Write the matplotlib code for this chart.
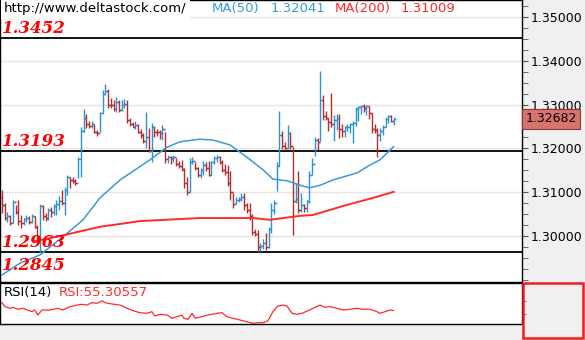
import matplotlib
matplotlib.use("Agg")
import matplotlib.pyplot as plt
from matplotlib.patches import Rectangle
from matplotlib.ticker import FixedLocator, MultipleLocator, FormatStrFormatter
import numpy as np

# Daily bars (high / low / close); each bar opens at the previous close
first_open = 1.3090
highs = [1.3105, 1.3075, 1.3055, 1.3048, 1.3082, 1.3071, 1.3082, 1.3048, 1.3041, 1.3048,
         1.3045, 1.3050, 1.3046, 1.3025, 1.3073, 1.3071, 1.3052, 1.3064, 1.3066, 1.3073,
         1.3082, 1.3092, 1.3105, 1.3112, 1.3140, 1.3135, 1.3134, 1.3130, 1.3180, 1.3249,
         1.3290, 1.3278, 1.3262, 1.3262, 1.3256, 1.3242, 1.3283, 1.3333, 1.3347, 1.3336,
         1.3314, 1.3310, 1.3317, 1.3310, 1.3310, 1.3312, 1.3310, 1.3270, 1.3260, 1.3262,
         1.3255, 1.3244, 1.3235, 1.3283, 1.3247, 1.3258, 1.3252, 1.3244, 1.3242, 1.3253,
         1.3237, 1.3185, 1.3183, 1.3185, 1.3178, 1.3172, 1.3174, 1.3155, 1.3135, 1.3178,
         1.3180, 1.3170, 1.3158, 1.3155, 1.3172, 1.3168, 1.3172, 1.3172, 1.3182, 1.3185,
         1.3182, 1.3174, 1.3165, 1.3163, 1.3148, 1.3098, 1.3090, 1.3090, 1.3098, 1.3098,
         1.3075, 1.3075, 1.3050, 1.3015, 1.3014, 1.2985, 1.2993, 1.3007, 1.3021, 1.3075,
         1.3082, 1.3170, 1.3286, 1.3240, 1.3215, 1.3253, 1.3238, 1.3203, 1.3120, 1.3148,
         1.3098, 1.3073, 1.3082, 1.3148, 1.3178, 1.3226, 1.3224, 1.3377, 1.3322, 1.3285,
         1.3270, 1.3326, 1.3276, 1.3279, 1.3279, 1.3256, 1.3251, 1.3255, 1.3258, 1.3262,
         1.3295, 1.3297, 1.3299, 1.3301, 1.3299, 1.3297, 1.3281, 1.3256, 1.3247, 1.3247,
         1.3254, 1.3272, 1.3276, 1.3276, 1.3272]
lows = [1.3053, 1.3037, 1.3033, 1.3025, 1.3030, 1.3050, 1.3026, 1.3019, 1.3026, 1.3033,
        1.3028, 1.3030, 1.3018, 1.2991, 1.2961, 1.3037, 1.3035, 1.3036, 1.3044, 1.3048,
        1.3048, 1.3060, 1.3071, 1.3048, 1.3094, 1.3110, 1.3120, 1.3116, 1.3133, 1.3135,
        1.3238, 1.3247, 1.3247, 1.3247, 1.3236, 1.3229, 1.3238, 1.3280, 1.3322, 1.3292,
        1.3292, 1.3285, 1.3283, 1.3283, 1.3285, 1.3292, 1.3258, 1.3251, 1.3248, 1.3244,
        1.3235, 1.3224, 1.3212, 1.3200, 1.3192, 1.3170, 1.3226, 1.3228, 1.3222, 1.3219,
        1.3167, 1.3167, 1.3165, 1.3170, 1.3160, 1.3155, 1.3148, 1.3110, 1.3093, 1.3100,
        1.3165, 1.3150, 1.3135, 1.3132, 1.3140, 1.3148, 1.3138, 1.3140, 1.3165, 1.3170,
        1.3165, 1.3145, 1.3140, 1.3115, 1.3082, 1.3065, 1.3072, 1.3078, 1.3080, 1.3060,
        1.3052, 1.3037, 1.3003, 1.3000, 1.2963, 1.2965, 1.2970, 1.2968, 1.2973, 1.3007,
        1.3050, 1.3103, 1.3160, 1.3199, 1.3196, 1.3199, 1.3199, 1.3002, 1.3075, 1.3053,
        1.3055, 1.3055, 1.3055, 1.3075, 1.3140, 1.3183, 1.3196, 1.3217, 1.3265, 1.3265,
        1.3240, 1.3249, 1.3217, 1.3242, 1.3224, 1.3226, 1.3226, 1.3240, 1.3235, 1.3212,
        1.3251, 1.3263, 1.3279, 1.3283, 1.3276, 1.3267, 1.3235, 1.3235, 1.3181, 1.3217,
        1.3231, 1.3249, 1.3258, 1.3260, 1.3254]
closes = [1.3071, 1.3040, 1.3045, 1.3030, 1.3078, 1.3055, 1.3035, 1.3030, 1.3038, 1.3040,
          1.3032, 1.3045, 1.3020, 1.2995, 1.3068, 1.3045, 1.3040, 1.3060, 1.3055, 1.3068,
          1.3072, 1.3080, 1.3075, 1.3105, 1.3135, 1.3128, 1.3126, 1.3122, 1.3175, 1.3240,
          1.3270, 1.3255, 1.3252, 1.3255, 1.3238, 1.3235, 1.3280, 1.3325, 1.3330, 1.3300,
          1.3298, 1.3290, 1.3305, 1.3288, 1.3300, 1.3302, 1.3265, 1.3255, 1.3250, 1.3253,
          1.3238, 1.3230, 1.3218, 1.3225, 1.3195, 1.3250, 1.3238, 1.3237, 1.3235, 1.3245,
          1.3175, 1.3180, 1.3178, 1.3180, 1.3165, 1.3160, 1.3152, 1.3120, 1.3100, 1.3170,
          1.3172, 1.3155, 1.3140, 1.3150, 1.3162, 1.3155, 1.3140, 1.3168, 1.3178, 1.3180,
          1.3170, 1.3150, 1.3145, 1.3120, 1.3100, 1.3072, 1.3083, 1.3085, 1.3090, 1.3070,
          1.3060, 1.3045, 1.3010, 1.3005, 1.2975, 1.2978, 1.2985, 1.2975, 1.3015, 1.3060,
          1.3075, 1.3160, 1.3230, 1.3205, 1.3200, 1.3235, 1.3205, 1.3080, 1.3085, 1.3060,
          1.3070, 1.3065, 1.3080, 1.3140, 1.3165, 1.3220, 1.3215, 1.3311, 1.3275, 1.3270,
          1.3260, 1.3255, 1.3265, 1.3270, 1.3245, 1.3240, 1.3248, 1.3250, 1.3255, 1.3258,
          1.3290, 1.3294, 1.3296, 1.3292, 1.3297, 1.3280, 1.3245, 1.3242, 1.3230, 1.3240,
          1.3250, 1.3268, 1.3275, 1.3262, 1.32682]

# Moving averages, sampled at bar positions
ma50_pos = [0, 6.6, 14, 22.4, 29.8, 36, 43.4, 54.4, 60.7, 65.4, 72.8, 77.6, 83.8, 90,
            96, 99.6, 104.8, 109.6, 113, 117, 121.7, 130.5, 135.3, 139, 144]
ma50_val = [1.2911, 1.2938, 1.2957, 1.2998, 1.3037, 1.3087, 1.3128, 1.3174, 1.3203,
            1.3215, 1.3221, 1.3219, 1.3208, 1.3180, 1.3151, 1.3130, 1.3126, 1.3116,
            1.3110, 1.3116, 1.3128, 1.3144, 1.3162, 1.3174, 1.32041]
ma200_pos = [12, 21.3, 36, 50.7, 72.8, 92.3, 98.5, 109.6, 114.3, 126.8, 136.4, 144]
ma200_val = [1.2988, 1.3000, 1.3021, 1.3034, 1.3041, 1.3041, 1.3037, 1.3046, 1.3048,
             1.3071, 1.3087, 1.31009]

# RSI(14)
rsi_pos = [0, 1.1, 3, 4, 6, 7.7, 11, 12, 13.2, 14.7, 17.6, 20.6, 22.4, 25, 27.6, 29.4,
           31.3, 33, 35, 36.8, 37.9, 40.4, 43.4, 46, 48.2, 50.7, 53.3, 55.1, 56.2, 58.1,
           60.7, 62.5, 64.3, 66.2, 66.9, 68.4, 69.9, 71, 73.5, 75.7, 79, 80.9, 82.7, 85,
           87.5, 90, 92.3, 94.1, 96, 97.8, 99.6, 101.4, 103.3, 104.8, 106.6, 108.5, 110.3,
           112.5, 115.1, 116.9, 118.8, 120.6, 123.2, 125.4, 128, 130.5, 132.7, 135.3,
           137.9, 139, 140.8, 142.6, 144]
rsi_val = [68.0, 61.5, 58.9, 60.5, 57.2, 58.9, 53.4, 56.1, 48.0, 56.1, 56.1, 58.9, 56.1,
           61.5, 64.2, 65.4, 64.2, 68.0, 67.0, 71.2, 68.0, 65.9, 64.2, 58.9, 55.0, 51.7,
           50.8, 53.4, 46.4, 49.1, 48.0, 42.6, 45.2, 48.0, 42.6, 41.0, 50.8, 42.6, 45.2,
           48.0, 50.8, 51.7, 45.2, 42.6, 39.9, 37.1, 34.5, 35.5, 35.5, 38.7, 53.4, 62.6,
           64.2, 62.6, 50.8, 49.1, 50.8, 55.0, 60.5, 64.2, 60.5, 61.5, 58.9, 56.1, 57.3,
           58.9, 57.3, 57.3, 53.4, 50.8, 53.4, 56.1, 55.30557]

levels = [1.3452, 1.3193, 1.2963, 1.2845]
last_price = 1.32682
price_ticks = [1.30, 1.31, 1.32, 1.33, 1.34, 1.35]

BG = "#f0f0f0"
UP = "#2b93d1"
DOWN = "#b22d2d"
MA50_C = "#3a9ad9"
MA200_C = "#ff2a2a"

fig = plt.figure(figsize=(5.85, 3.4), dpi=100, facecolor=BG)
ax = fig.add_axes([0, 58 / 340, 522 / 585, 282 / 340])
rsi_ax = fig.add_axes([0, 16 / 340, 522 / 585, 41 / 340])

# ---- price panel ----
x = np.arange(len(closes))
opens = np.array([first_open] + closes[:-1])
c = np.array(closes)
colors = np.where(c >= opens, UP, DOWN)
ax.vlines(x, lows, highs, colors=colors, lw=1.0, zorder=3)
ax.hlines(opens, x - 0.75, x, colors=colors, lw=1.0, zorder=3)
ax.hlines(c, x, x + 0.75, colors=colors, lw=1.0, zorder=3)

ax.plot(ma50_pos, ma50_val, color=MA50_C, lw=1.1, zorder=4)
ax.plot(ma200_pos, ma200_val, color=MA200_C, lw=1.4, zorder=4)

for lv in levels:
    ax.axhline(lv, color="black", lw=1.3, zorder=2)

xmin = -2 / 2.72
ax.set_xlim(xmin, xmin + 522 / 2.72)
ax.set_ylim(1.35 - 265 / 4380, 1.35 + 17 / 4380)
ax.set_facecolor("white")
ax.set_xticks([])
ax.yaxis.tick_right()
ax.yaxis.set_major_locator(FixedLocator(price_ticks))
ax.yaxis.set_minor_locator(MultipleLocator(0.0025))
ax.yaxis.set_major_formatter(FormatStrFormatter("%.5f"))
ax.tick_params(axis="y", which="major", length=4, pad=2, labelsize=9, color="#555555")
ax.tick_params(axis="y", which="minor", length=4, color="#555555")
ax.grid(axis="y", which="major", color="#e4e4e4", lw=1, zorder=0)
for s in ax.spines.values():
    s.set_color("black")
    s.set_linewidth(1)

# level labels
lab_font = dict(family="DejaVu Serif", weight="bold", style="italic", size=12,
                color="red")
for lv in levels[:3]:
    ax.annotate(f"{lv:.4f}", (0.004, lv), xycoords=("axes fraction", "data"),
                xytext=(0, 1), textcoords="offset points", va="bottom", ha="left",
                zorder=6, **lab_font)
ax.annotate(f"{levels[3]:.4f}", (0.004, 0), xycoords="axes fraction",
            xytext=(0, 6), textcoords="offset points", va="bottom", ha="left",
            zorder=6, **lab_font)

# header
hdr_y = 0.969
ax.text(0.008, hdr_y, "http://www.deltastock.com/", transform=ax.transAxes, fontsize=9.5,
        va="center", ha="left", color="black", zorder=7,
        bbox=dict(fc="white", ec="none", pad=2.5))
ax.text(0.405, hdr_y, "MA(50)", transform=ax.transAxes, fontsize=9.5, va="center",
        color=MA50_C, zorder=7)
ax.text(0.518, hdr_y, f"{ma50_val[-1]:.5f}", transform=ax.transAxes, fontsize=9.5,
        va="center", color=MA50_C, zorder=7)
ax.text(0.642, hdr_y, "MA(200)", transform=ax.transAxes, fontsize=9.5, va="center",
        color=MA200_C, zorder=7)
ax.text(0.768, hdr_y, f"{ma200_val[-1]:.5f}", transform=ax.transAxes, fontsize=9.5,
        va="center", color=MA200_C, zorder=7)

# last price tag on the axis
ax.annotate(f"{last_price:.5f}", (1.0, last_price), xycoords=("axes fraction", "data"),
            xytext=(2.5, 0), textcoords="offset points", va="center", ha="left",
            fontsize=9, color="black", annotation_clip=False, zorder=8,
            bbox=dict(boxstyle="square,pad=0.28", fc="#d9736e", ec="#8a3a36", lw=0.8))

# ---- RSI panel ----
rsi_ax.plot(rsi_pos, rsi_val, color="#ff2a2a", lw=0.9)
rsi_ax.set_xlim(ax.get_xlim())
rsi_ax.set_ylim(33.4, 100)
rsi_ax.set_xticks([])
rsi_ax.yaxis.tick_right()
rsi_ax.set_yticks([50, 70])
rsi_ax.set_yticklabels([])
rsi_ax.tick_params(axis="y", length=3, color="#777777")
rsi_ax.set_facecolor("white")
for s in rsi_ax.spines.values():
    s.set_color("black")
    s.set_linewidth(1)
rsi_ax.text(0.008, 0.78, "RSI(14)", transform=rsi_ax.transAxes, fontsize=9.5,
            va="center", color="black")
rsi_ax.text(0.112, 0.78, f"RSI:{rsi_val[-1]:.5f}", transform=rsi_ax.transAxes,
            fontsize=9.5, va="center", color="#ff2a2a")

# red frame in the lower right corner
fig.patches.append(Rectangle((523 / 585, 2 / 340), 60 / 585, 55 / 340,
                             transform=fig.transFigure, fill=False, ec="#e82020", lw=1.8))

fig.savefig("out.png", dpi=100, facecolor=BG)
